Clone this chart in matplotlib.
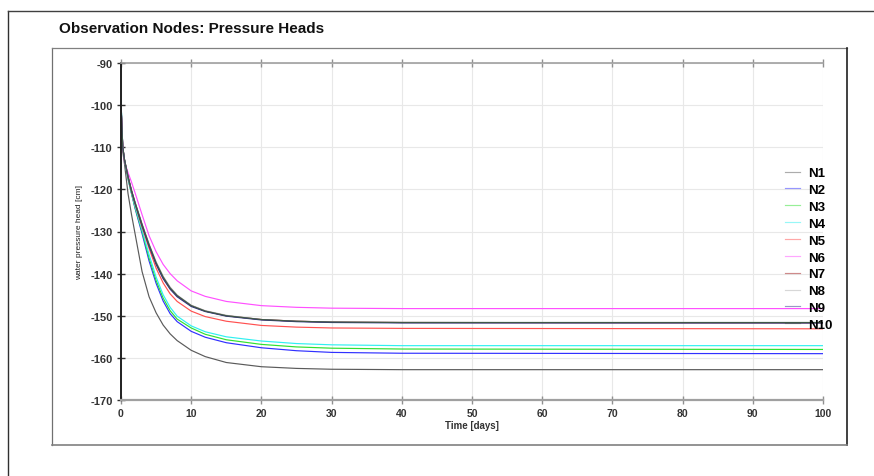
import matplotlib
matplotlib.use("Agg")
import matplotlib.pyplot as plt
from matplotlib.lines import Line2D

plt.rcParams['font.family'] = ['Liberation Sans', 'DejaVu Sans']
plt.rcParams['axes.unicode_minus'] = False

# ---- data ----
time_days = [0, 0.25, 0.5, 1, 1.5, 2, 3, 4, 5, 6, 7, 8, 10, 12, 15, 20, 25, 30, 40, 100]

n1 = [-99, -111, -114, -121, -126, -130.5, -139.5, -145.5, -149.3, -152.2, -154.3, -155.9, -158.2, -159.7, -161.1, -162.1, -162.5, -162.7, -162.8, -162.8]
n2 = [-99, -110, -113, -117.5, -121, -124.5, -130.5, -137, -142.3, -146.5, -149.5, -151.4, -153.7, -155.1, -156.4, -157.6, -158.3, -158.7, -158.9, -159.0]
n3 = [-99, -110, -113, -117.5, -121, -124.3, -130, -136.3, -141.6, -145.8, -148.8, -150.8, -152.9, -154.4, -155.7, -156.8, -157.4, -157.7, -157.9, -158.0]
n4 = [-99, -110, -113, -117.3, -120.7, -124, -129.6, -135.5, -140.8, -145, -148, -150.1, -152.4, -153.8, -155.0, -156.0, -156.6, -156.9, -157.1, -157.1]
n5 = [-100, -110, -113, -117, -120.5, -123.5, -129, -134, -138.7, -142.2, -144.8, -146.6, -148.9, -150.2, -151.3, -152.3, -152.7, -152.9, -153.0, -153.1]
n6 = [-100, -110, -113.5, -116, -118.3, -120.8, -126, -131, -134.8, -137.8, -140, -141.7, -144.1, -145.4, -146.6, -147.6, -148.0, -148.2, -148.3, -148.3]
n7 = [-100, -110, -113, -117, -120.3, -123.2, -128.5, -133.3, -137.6, -141, -143.5, -145.3, -147.6, -148.9, -150.0, -150.9, -151.3, -151.5, -151.6, -151.7]
n8 = [-100, -110, -113, -117, -120.2, -123, -128.2, -133, -137.2, -140.6, -143.2, -145.1, -147.5, -148.8, -149.9, -150.9, -151.3, -151.5, -151.6, -151.7]
n9 = [-100, -110, -113, -117, -120.4, -123.3, -128.6, -133.5, -137.8, -141.2, -143.7, -145.5, -147.8, -149.0, -150.1, -151.0, -151.4, -151.6, -151.7, -151.7]
n10 = [-100, -110, -113, -117, -120.3, -123.1, -128.3, -133.1, -137.4, -140.8, -143.4, -145.2, -147.6, -148.9, -150.0, -150.9, -151.3, -151.5, -151.6, -151.6]

series_labels = ['N1', 'N2', 'N3', 'N4', 'N5', 'N6', 'N7', 'N8', 'N9', 'N10']
series_values = [n1, n2, n3, n4, n5, n6, n7, n8, n9, n10]
series_colors = ['#5a5a5a', '#3030ff', '#30e030', '#30f0f0', '#ff5050',
                 '#ff50ff', '#a01818', '#b0b0b0', '#303088', '#405848']

x_ticks = [0, 10, 20, 30, 40, 50, 60, 70, 80, 90, 100]
y_ticks = [-170, -160, -150, -140, -130, -120, -110, -100, -90]

W, H = 874, 477
fig = plt.figure(figsize=(W / 100, H / 100), dpi=100)

def fx(px):
    return px / W

def fy(py):
    return 1 - py / H

# outer frame (left + top)
fig.add_artist(Line2D([fx(8), fx(8)], [fy(12), 0], color='#303030', lw=1.0))
fig.add_artist(Line2D([fx(8), 1], [fy(12), fy(12)], color='#404040', lw=1.0))
# inner frame
fig.add_artist(Line2D([fx(52), fx(52)], [fy(49), fy(446)], color='#707070', lw=0.9))
fig.add_artist(Line2D([fx(52), fx(847)], [fy(49), fy(49)], color='#808080', lw=0.9))
fig.add_artist(Line2D([fx(847), fx(847)], [fy(49), fy(446)], color='#202020', lw=1.2))
fig.add_artist(Line2D([fx(52), fx(847)], [fy(446), fy(446)], color='#808080', lw=1.2))

ax = fig.add_axes([fx(121), fy(401), fx(823) - fx(121), fy(64) - fy(401)])

for lab, vals, col in zip(series_labels, series_values, series_colors):
    ax.plot(time_days, vals, color=col, lw=0.85, label=lab)

ax.set_xlim(0, 100)
ax.set_ylim(-170, -90)
ax.set_xticks(x_ticks)
ax.set_yticks(y_ticks)
ax.grid(True, color='#e8e8e8', lw=0.8)
ax.set_axisbelow(True)

ax.spines['right'].set_visible(False)
ax.spines['left'].set_color('#202020')
ax.spines['left'].set_linewidth(1.4)
ax.spines['bottom'].set_color('#a0a0a0')
ax.spines['bottom'].set_linewidth(1.6)
ax.spines['top'].set_color('#a0a0a0')
ax.spines['top'].set_linewidth(1.2)

ax.tick_params(axis='y', direction='inout', length=6, width=1, color='#303030',
               labelsize=8, labelcolor='#333333', pad=3)
ax.tick_params(axis='x', direction='inout', length=6, width=1, color='#909090',
               labelsize=7.5, labelcolor='#333333', pad=3, top=True)
for t in ax.get_xticklabels() + ax.get_yticklabels():
    t.set_fontweight('bold')

fig.text(fx(59), fy(29), 'Observation Nodes: Pressure Heads', fontsize=11,
         fontweight='bold', ha='left', va='center', color='#111111')
fig.text(fx(80), fy(233), 'water pressure head [cm]', fontsize=6, rotation=90,
         ha='center', va='center', color='#222222')
fig.text(fx(472), fy(426), 'Time [days]', fontsize=7, fontweight='bold',
         ha='center', va='center', color='#333333')

leg = ax.legend(loc='upper left', bbox_to_anchor=(fx(785), fy(168)),
                bbox_transform=fig.transFigure, frameon=False, borderpad=0,
                borderaxespad=0, handlelength=1.15, handletextpad=0.6,
                labelspacing=0.35,
                prop={'family': 'Liberation Sans', 'weight': 'bold', 'size': 9.5})
for h in leg.legend_handles:
    h.set_alpha(0.5)

fig.savefig('out.png', dpi=100)
